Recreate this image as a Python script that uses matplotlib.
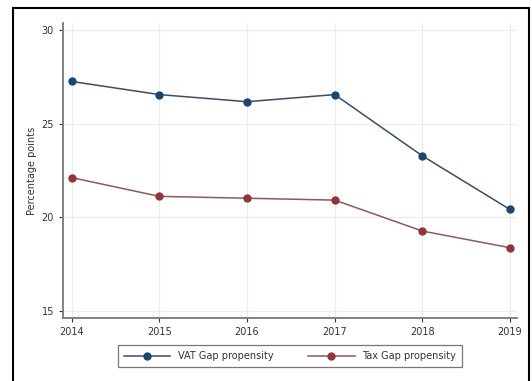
import numpy as np
import matplotlib.pyplot as plt
from matplotlib.patches import Rectangle

years = [2014, 2015, 2016, 2017, 2018, 2019]
vat_gap = [27.25, 26.55, 26.17, 26.55, 23.28, 20.42]
tax_gap = [22.12, 21.12, 21.02, 20.92, 19.27, 18.38]

fig = plt.figure(figsize=(5.32, 3.81), dpi=100)
ax = fig.add_axes([63/532, 1-318/381, (517-63)/532, (318-23)/381])

ax.plot(years, vat_gap, color='#3d4d60', lw=1.1, marker='o', ms=5,
        mfc='#1a476f', mec='#1a476f', label='VAT Gap propensity', zorder=3)
ax.plot(years, tax_gap, color='#8a5a60', lw=1.1, marker='o', ms=5,
        mfc='#90353b', mec='#90353b', label='Tax Gap propensity', zorder=3)

ax.set_xlim(2013.9, 2019.08)
ax.set_ylim(14.63, 30.37)
ax.set_xticks(years)
ax.set_yticks([15, 20, 25, 30])
ax.grid(True, color='#ececec', lw=0.8)
ax.set_axisbelow(True)
for s in ['top', 'right']:
    ax.spines[s].set_visible(False)
for s in ['left', 'bottom']:
    ax.spines[s].set_color('#777777')
    ax.spines[s].set_linewidth(1.3)
ax.tick_params(colors='#333333', labelsize=7, length=3, width=0.8)
ax.set_ylabel('Percentage points', fontsize=7, color='#333333', labelpad=3)

leg = fig.legend(loc='center', bbox_to_anchor=(290/532, 1-356/381), ncol=2,
                 fontsize=7, frameon=True, fancybox=False, edgecolor='#555555',
                 handlelength=4.8, columnspacing=3.5, borderpad=0.6)
leg.get_frame().set_linewidth(0.9)
for t in leg.get_texts():
    t.set_color('#333333')

# outer frame
fig.patches.append(Rectangle((12.5/532, -0.01), (529-12.5)/532, 1.01-8/381,
                             transform=fig.transFigure, fill=False,
                             edgecolor='black', lw=1.5))

fig.savefig('out.png', dpi=100)
